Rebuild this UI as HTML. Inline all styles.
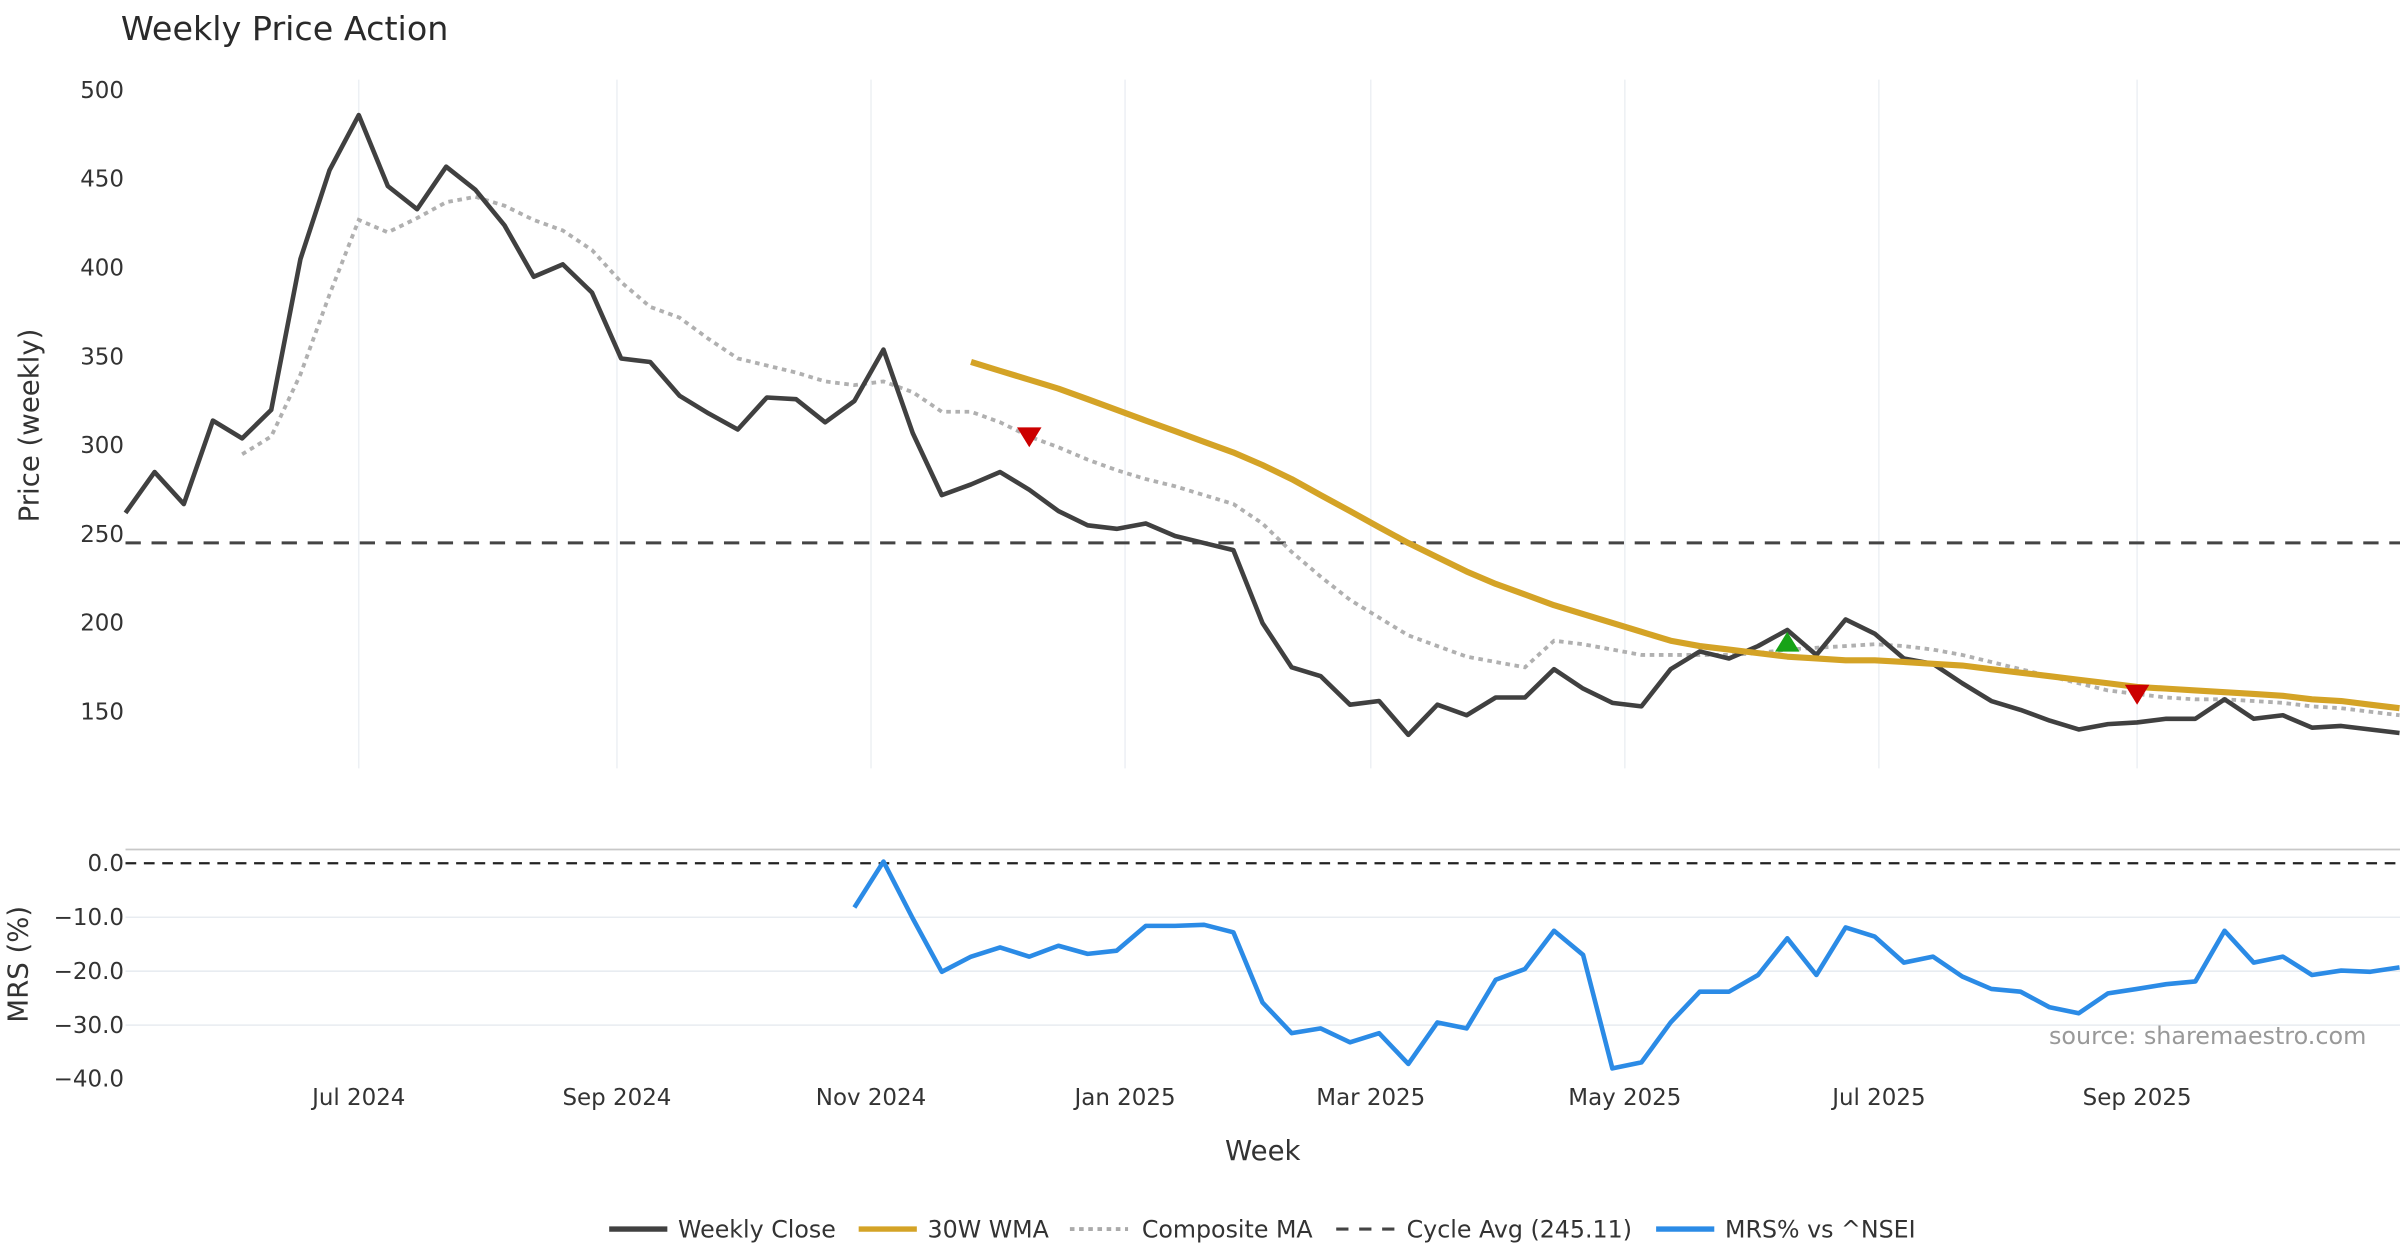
<!DOCTYPE html>
<html><head><meta charset="utf-8"><style>
html,body{margin:0;padding:0;background:#fff;}
svg{display:block;font-family:"DejaVu Sans","Liberation Sans",sans-serif;}
</style></head><body>
<svg id="chart" width="2400" height="1260" viewBox="0 0 1568 823.2" xmlns="http://www.w3.org/2000/svg">
<rect width="1568" height="823.2" fill="#fff"/>
<text x="79" y="26" font-size="21.8" fill="#2a2a2a">Weekly Price Action</text>
<g id="grid"></g>
<g id="price"></g>
<g id="mrs"></g>
<g id="axes"></g>
<text transform="translate(25,278) rotate(-90)" text-anchor="middle" font-size="18" fill="#333">Price (weekly)</text>
<text transform="translate(18,630) rotate(-90)" text-anchor="middle" font-size="18" fill="#333">MRS (%)</text>
<text x="825" y="758" text-anchor="middle" font-size="18" fill="#333">Week</text>
<text x="1546" y="682" text-anchor="end" font-size="15.6" fill="#999">source: sharemaestro.com</text>
<g id="legend" font-size="15.5" fill="#333">
<g><line x1="398" y1="803" x2="436" y2="803" stroke="#404040" stroke-width="3.5"/><text x="443" y="808.5">Weekly Close</text></g>
<g><line x1="561" y1="803" x2="599" y2="803" stroke="#d4a326" stroke-width="3.5"/><text x="606" y="808.5">30W WMA</text></g>
<g><line x1="699" y1="803" x2="737" y2="803" stroke="#aaa" stroke-width="2.5" stroke-dasharray="3,3"/><text x="746" y="808.5">Composite MA</text></g>
<g><line x1="873" y1="803" x2="911" y2="803" stroke="#444" stroke-width="2" stroke-dasharray="8,7"/><text x="919" y="808.5">Cycle Avg (245.11)</text></g>
<g><line x1="1082" y1="803" x2="1120" y2="803" stroke="#2b8be6" stroke-width="3.5"/><text x="1127" y="808.5">MRS% vs ^NSEI</text></g>
</g>
</svg>
<script>
const weeklyClose=[262,285,267,314,304,320,405,455,486,446,433,457,444,424,395,402,386,349,347,328,318,309,327,326,313,325,354,307,272,278,285,275,263,255,253,256,249,245,241,200,175,170,154,156,137,154,148,158,158,174,163,155,153,174,184,180,187,196,182,202,194,180,177,166,156,151,145,140,143,144,146,146,157,146,148,141,142,140,138];
const compositeMA=[null,null,null,null,295,305,340,385,427,420,428,437,440,435,427,421,410,392,378,372,360,349,345,341,336,334,336,330,319,319,313,305,299,292,286,281,277,272,267,256,240,226,213,203,193,187,181,178,175,190,188,185,182,182,182,182,183,185,186,187,188,187,185,182,178,174,170,166,162,160,158,157,157,156,155,153,152,150,148];
const wma30=[null,null,null,null,null,null,null,null,null,null,null,null,null,null,null,null,null,null,null,null,null,null,null,null,null,null,null,null,null,347,342,337,332,326,320,314,308,302,296,289,281,272,263,254,245,237,229,222,216,210,205,200,195,190,187,185,183,181,180,179,179,178,177,176,174,172,170,168,166,164,163,162,161,160,159,157,156,154,152];
const mrs=[null,null,null,null,null,null,null,null,null,null,null,null,null,null,null,null,null,null,null,null,null,null,null,null,null,-8.2,0.3,-10.2,-20.1,-17.3,-15.6,-17.3,-15.3,-16.8,-16.2,-11.6,-11.6,-11.4,-12.8,-25.8,-31.5,-30.6,-33.2,-31.5,-37.2,-29.5,-30.6,-21.6,-19.6,-12.5,-17,-38,-36.9,-29.5,-23.8,-23.8,-20.7,-13.9,-20.7,-11.9,-13.6,-18.4,-17.3,-21,-23.3,-23.8,-26.7,-27.8,-24.1,-23.3,-22.4,-21.9,-12.5,-18.4,-17.3,-20.7,-19.9,-20.1,-19.3];
const cycleAvg=245.11;
const signalIdx=[31,57,69];
const signalVal=[305,189,160];
const signalType=["down","up","down"];
const priceTicks=[150,200,250,300,350,400,450,500];
const mrsTicks=[0,-10,-20,-30,-40];
const monthLabels=["Jul 2024","Sep 2024","Nov 2024","Jan 2025","Mar 2025","May 2025","Jul 2025","Sep 2025"];
const monthDates=["2024-07-01","2024-09-01","2024-11-01","2025-01-01","2025-03-01","2025-05-01","2025-07-01","2025-09-01"];
const startDate="2024-05-06";

const NS="http://www.w3.org/2000/svg";
const X0=82,XR=1568,pxPerDay=2.721;
const d0=Date.parse(startDate);
function xDate(s){return X0+(Date.parse(s)-d0)/864e5*pxPerDay;}
function xIdx(i){return X0+i*7*pxPerDay;}
function yP(v){return 59+(500-v)*1.16;}
function yM(v){return 564-v*3.525;}
function mk(tag,attrs,parent){const e=document.createElementNS(NS,tag);for(const k in attrs)e.setAttribute(k,attrs[k]);parent.appendChild(e);return e;}
const grid=document.getElementById('grid'),price=document.getElementById('price'),mrsG=document.getElementById('mrs'),axes=document.getElementById('axes');
const defs=mk('defs',{},document.getElementById('chart'));
const cp=mk('clipPath',{id:'clip'},defs);mk('rect',{x:X0-2,y:40,width:XR-X0+2,height:700},cp);
price.setAttribute('clip-path','url(#clip)');mrsG.setAttribute('clip-path','url(#clip)');
monthDates.forEach((d,k)=>{const x=xDate(d);
 const g1=mk('line',{x1:x,x2:x,y1:52,y2:502,stroke:'#edf0f4','stroke-width':1},grid);
 
 
 const t=mk('text',{x:x,y:722,'text-anchor':'middle','font-size':15,fill:'#333'},axes);t.textContent=monthLabels[k];
 
 
});
priceTicks.forEach(v=>{const t=mk('text',{x:81,y:yP(v)+5,'text-anchor':'end','font-size':15,fill:'#333'},axes);t.textContent=v;
 
 });
mrsTicks.forEach(v=>{
 if(v<0&&v>-40){const l=mk('line',{x1:X0,x2:XR,y1:yM(v),y2:yM(v),stroke:'#e8ecf1','stroke-width':1},grid);
 
 }
 const t=mk('text',{x:81,y:yM(v)+5,'text-anchor':'end','font-size':15,fill:'#333'},axes);t.textContent=(v===0?'0.0':'\u2212'+Math.abs(v).toFixed(1));
 
 });
const sep=mk('line',{x1:X0,x2:XR,y1:555,y2:555,stroke:'#c8c8c8','stroke-width':1.2},grid);


function path(arr,yf){let d='',pen=false;arr.forEach((v,i)=>{if(v===null){pen=false;return;}d+=(pen?'L':'M')+xIdx(i).toFixed(1)+','+yf(v).toFixed(1);pen=true;});return d;}
const ca=mk('line',{x1:X0,x2:XR,y1:yP(cycleAvg),y2:yP(cycleAvg),stroke:'#444','stroke-width':2,'stroke-dasharray':'10,7'},price);


const cm=mk('path',{d:path(compositeMA,yP),fill:'none',stroke:'#b0b0b0','stroke-width':2.5,'stroke-dasharray':'3,3'},price);


const wc=mk('path',{d:path(weeklyClose,yP),fill:'none',stroke:'#404040','stroke-width':3,'stroke-linejoin':'round'},price);


const wm=mk('path',{d:path(wma30,yP),fill:'none',stroke:'#d4a326','stroke-width':4,'stroke-linejoin':'round'},price);


signalIdx.forEach((i,k)=>{const x=xIdx(i),y=yP(signalVal[k]);let pts;
 if(signalType[k]==='down')pts=`${x-8},${y-6} ${x+8},${y-6} ${x},${y+7}`;else pts=`${x-8},${y+6} ${x+8},${y+6} ${x},${y-7}`;
 const t=mk('polygon',{points:pts,fill:signalType[k]==='down'?'#cc0000':'#17a317'},price);
 
 });
const z=mk('line',{x1:X0,x2:XR,y1:yM(0),y2:yM(0),stroke:'#222','stroke-width':1.5,'stroke-dasharray':'7,5'},mrsG);


const ml=mk('path',{d:path(mrs,yM),fill:'none',stroke:'#2b8be6','stroke-width':3,'stroke-linejoin':'round'},mrsG);


</script>
</body></html>
